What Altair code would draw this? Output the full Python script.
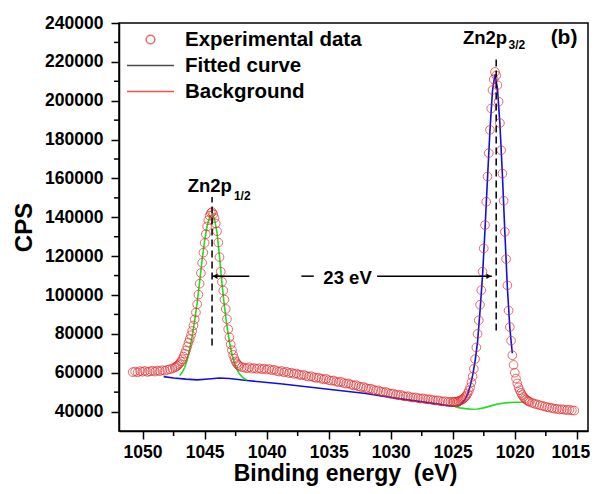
import altair as alt
import pandas as pd

# ---------------- data ----------------
exp_energy = [
    1050.8, 1050.6, 1050.4, 1050.2, 1050.0, 1049.8, 1049.6, 1049.4, 1049.2, 1049.0,
    1048.8, 1048.6, 1048.4, 1048.2, 1048.0, 1047.8, 1047.6, 1047.4,
    1047.3, 1047.2, 1047.1, 1047.0, 1046.9, 1046.8, 1046.7, 1046.6, 1046.5, 1046.4,
    1046.3, 1046.2, 1046.1, 1046.0, 1045.9, 1045.8, 1045.7, 1045.6, 1045.5, 1045.4,
    1045.3, 1045.2, 1045.1, 1045.0, 1044.9, 1044.8, 1044.7, 1044.6, 1044.5, 1044.4,
    1044.3, 1044.2, 1044.1, 1044.0, 1043.9, 1043.8, 1043.7, 1043.6, 1043.5, 1043.4,
    1043.3, 1043.2, 1043.1, 1043.0, 1042.9, 1042.8, 1042.7, 1042.6, 1042.5, 1042.4,
    1042.3, 1042.2,
    1042.0, 1041.8, 1041.6, 1041.4, 1041.2, 1041.0, 1040.8, 1040.6, 1040.4, 1040.2,
    1040.0, 1039.8, 1039.6, 1039.4, 1039.2, 1039.0, 1038.8, 1038.6, 1038.4, 1038.2,
    1038.0, 1037.8, 1037.6, 1037.4, 1037.2, 1037.0, 1036.8, 1036.6, 1036.4, 1036.2,
    1036.0, 1035.8, 1035.6, 1035.4, 1035.2, 1035.0, 1034.8, 1034.6, 1034.4, 1034.2,
    1034.0, 1033.8, 1033.6, 1033.4, 1033.2, 1033.0, 1032.8, 1032.6, 1032.4, 1032.2,
    1032.0, 1031.8, 1031.6, 1031.4, 1031.2, 1031.0, 1030.8, 1030.6, 1030.4, 1030.2,
    1030.0, 1029.8, 1029.6, 1029.4, 1029.2, 1029.0, 1028.8, 1028.6, 1028.4, 1028.2,
    1028.0, 1027.8, 1027.6, 1027.4, 1027.2, 1027.0, 1026.8, 1026.6, 1026.4, 1026.2,
    1026.0, 1025.8, 1025.6, 1025.4, 1025.2, 1025.0,
    1024.9, 1024.8, 1024.7, 1024.6, 1024.5, 1024.4, 1024.3, 1024.2, 1024.1, 1024.0,
    1023.9, 1023.8, 1023.7, 1023.6, 1023.5, 1023.4, 1023.3, 1023.2, 1023.1, 1023.0,
    1022.9, 1022.8, 1022.7, 1022.6, 1022.5, 1022.4, 1022.3, 1022.2, 1022.1, 1022.0,
    1021.9, 1021.8, 1021.7, 1021.6, 1021.5, 1021.4, 1021.3, 1021.2, 1021.1, 1021.0,
    1020.9, 1020.8, 1020.7, 1020.6, 1020.5, 1020.4, 1020.3, 1020.2, 1020.1, 1020.0,
    1019.9, 1019.8, 1019.7, 1019.6, 1019.5, 1019.4, 1019.3, 1019.2, 1019.1, 1019.0,
    1018.9, 1018.8,
    1018.6, 1018.4, 1018.2, 1018.0, 1017.8, 1017.6, 1017.4, 1017.2, 1017.0, 1016.8,
    1016.6, 1016.4, 1016.2, 1016.0, 1015.8, 1015.6, 1015.4, 1015.2,
]
exp_cps = [
    60300, 60600, 60200, 60800, 60500, 60900, 60400, 60700, 61000, 60600,
    61100, 60800, 61300, 61000, 61500, 61800, 62200, 62700,
    63100, 63600, 64200, 64900, 65800, 66900, 68300, 69800, 71500, 73500,
    75500, 77300, 79300, 81500, 84300, 87500, 91000, 95200, 100200, 105800,
    111300, 116600, 121800, 126800, 131300, 135300, 138500, 140800, 142200, 142700,
    141600, 139600, 136800, 132800, 127000, 119500, 112000, 106800, 102300, 97600,
    92800, 87600, 82400, 78200, 74600, 71600, 69200, 67300, 65800, 64800,
    64000, 63400,
    62900, 62600, 62300, 62800, 62100, 62400, 62000, 62300, 61800, 62100,
    61600, 61900, 61300, 61500, 60900, 60600, 60900, 60200, 60500, 59800,
    60000, 59400, 59600, 59000, 58700, 58900, 58300, 58000, 58200, 57600,
    57300, 57500, 56900, 56600, 56800, 56200, 55900, 56000, 55400, 55100,
    55300, 54700, 54400, 54500, 53900, 53500, 53600, 53000, 52600, 52700,
    52100, 51700, 51800, 51200, 50800, 50900, 50300, 50000, 50100, 49500,
    49200, 49300, 48700, 48500, 48600, 48000, 47800, 47900, 47400, 47200,
    47300, 46900, 46700, 46800, 46400, 46300, 46200, 45900, 45700, 45800,
    45400, 45200, 45300, 44900, 45000, 45100,
    44900, 45100, 45000, 45200, 45400, 45700, 46000, 46400, 46900, 47500,
    48300, 49400, 50800, 52500, 55000, 58000, 62000, 67000, 73000, 80000,
    87000, 95000, 102500, 112000, 124000, 136000, 148000, 161000, 173000, 185000,
    196000, 205500, 211000, 214800, 213000, 208000, 199500, 188500, 174500, 162500,
    148500, 132500, 118500, 105000, 92000, 83500, 76500, 69000, 64000, 60000,
    57000, 54500, 52500, 51000, 49600, 48500, 47500, 46800, 46200, 45700,
    45300, 45000,
    44500, 44000, 43700, 43300, 43000, 42600, 42300, 42000, 41800, 41500,
    41400, 41100, 41200, 40900, 40800, 40900, 40600, 40500,
]

# blue: background under Zn2p1/2 continued by the Zn2p3/2 fit
blue_energy = [1048.3, 1047.5, 1046.5, 1045.6, 1044.7, 1043.8, 1043.0, 1041.6, 1038.9,
               1035.2, 1032.0, 1029.5, 1027.0, 1025.5, 1024.9, 1024.6, 1024.3, 1024.0,
               1023.8, 1023.6, 1023.4, 1023.2, 1023.0, 1022.8, 1022.6, 1022.4, 1022.2,
               1022.0, 1021.8, 1021.6, 1021.4, 1021.2, 1021.0, 1020.8, 1020.6, 1020.4,
               1020.2]
blue_cps = [58000, 57300, 56700, 56300, 56800, 57300, 57000, 56000, 54300,
            51600, 49300, 46800, 44600, 43200, 42700, 42600, 44000, 46500,
            49000, 53000, 58500, 66000, 76000, 92000, 110000, 134000, 160000,
            185000, 205000, 213500, 206500, 188000, 162000, 132000, 104000, 83000,
            70000]

# green: Zn2p1/2 fit and background under Zn2p3/2
green_peak_energy = [1047.0, 1046.8, 1046.6, 1046.4, 1046.2, 1046.0, 1045.8, 1045.6, 1045.4,
                     1045.2, 1045.0, 1044.8, 1044.6, 1044.4, 1044.2, 1044.0, 1043.8, 1043.6,
                     1043.4, 1043.2, 1043.0, 1042.8, 1042.6, 1042.4, 1042.2, 1042.0, 1041.8,
                     1041.6]
green_peak_cps = [58500, 60200, 62800, 66500, 72000, 79000, 87000, 96000, 107000,
                  118000, 128000, 135500, 140000, 141500, 139000, 132000, 120000, 106000,
                  94000, 84000, 76000, 69500, 65000, 61800, 59500, 58000, 57000,
                  56200]
green_bg_energy = [1024.8, 1024.4, 1024.0, 1023.5, 1023.0, 1022.5, 1022.0, 1021.5, 1021.0,
                   1020.5, 1020.0, 1019.6, 1019.3]
green_bg_cps = [42400, 41900, 41500, 41200, 41300, 41900, 42800, 43700, 44300,
                44600, 44800, 44800, 44900]

series_names = ["Experimental data", "Fitted curve", "Background"]
series_colors = ["#dd2a2a", "#000000", "#ff0000"]

x_ticks = [1015, 1020, 1025, 1030, 1035, 1040, 1045, 1050]
x_minor = [1017.5, 1022.5, 1027.5, 1032.5, 1037.5, 1042.5, 1047.5]
y_ticks = list(range(40000, 240001, 20000))
y_minor = list(range(50000, 230001, 20000))

# annotation anchors (data coordinates)
peak_e = [1044.4, 1021.5]
peak_top = [150400, 223300]
peak_bottom = [74000, 81700]
gap_y = 109700
arrow_from = [1044.4, 1037.2, 1031.1]
arrow_to = [1041.4, 1036.2, 1021.85]

# ---------------- chart ----------------
W, H = 469, 408
FONT = "Liberation Sans"
CIRCLE = "M-0.37,0A0.37,0.37 0 1,1 0.37,0A0.37,0.37 0 1,1 -0.37,0Z"
LINE = "M-2,0L2,0"

xs = alt.Scale(domain=[1014.1, 1051.9], reverse=True, nice=False, zero=False)
ys = alt.Scale(domain=[30000, 240000], nice=False, zero=False)
xaxis = alt.Axis(values=x_ticks, format="d", title="Binding energy\u00a0 (eV)",
                 labelPadding=4, labelFlush=13, labelFlushOffset=13,
                 titleX=226, titleY=49.5, titleBaseline="alphabetic", titleFontSize=23)
yaxis = alt.Axis(values=y_ticks, format="d", title="CPS", titlePadding=8, labelPadding=8)


def X(f):
    return alt.X(f, type="quantitative", scale=xs, axis=xaxis)


def Y(f):
    return alt.Y(f, type="quantitative", scale=ys, axis=yaxis)


exp_df = pd.DataFrame({"E": exp_energy, "CPS": exp_cps, "series": series_names[0]})
blue_df = pd.DataFrame({"E": blue_energy, "CPS": blue_cps})
gp_df = pd.DataFrame({"E": green_peak_energy, "CPS": green_peak_cps})
gb_df = pd.DataFrame({"E": green_bg_energy, "CPS": green_bg_cps})

legend = alt.Legend(title=None, orient="top-left", offset=4, padding=0,
                    symbolSize=552, symbolStrokeWidth=1.5, symbolOffset=15,
                    labelOffset=22, rowPadding=3, labelFont=FONT, labelFontSize=20.5,
                    labelFontWeight="bold", labelColor="black", labelLimit=500)

blue = alt.Chart(blue_df).mark_line(color="#1010e0", strokeWidth=1.6).encode(
    x=X("E"), y=Y("CPS"), order="idx:Q").transform_window(idx="row_number()")
green1 = alt.Chart(gp_df).mark_line(color="#22dd22", strokeWidth=1.6).encode(
    x=X("E"), y=Y("CPS"))
green2 = alt.Chart(gb_df).mark_line(color="#22dd22", strokeWidth=1.6).encode(
    x=X("E"), y=Y("CPS"))

points = alt.Chart(exp_df).mark_point(filled=False, size=552, strokeWidth=1).encode(
    x=X("E"), y=Y("CPS"),
    color=alt.Color("series:N", scale=alt.Scale(domain=series_names, range=series_colors),
                    legend=legend),
    shape=alt.Shape("series:N", scale=alt.Scale(domain=series_names,
                                                range=[CIRCLE, LINE, LINE]),
                    legend=legend),
)

dash_df = pd.DataFrame({"E": peak_e, "top": peak_top, "bottom": peak_bottom})
dashes = alt.Chart(dash_df).mark_rule(color="black", strokeWidth=1.5,
                                      strokeDash=[7, 4]).encode(
    x=X("E"), y=Y("bottom"), y2="top")

arr_df = pd.DataFrame({"E": arrow_from, "E2": arrow_to, "CPS": [gap_y] * 3})
arrows = alt.Chart(arr_df).mark_rule(color="black", strokeWidth=1.5).encode(
    x=X("E"), x2="E2", y=Y("CPS"))
head_l = alt.Chart(pd.DataFrame({"E": [1044.15], "CPS": [gap_y]})).mark_point(
    filled=True, color="black", size=30, opacity=1, shape="triangle-left").encode(
    x=X("E"), y=Y("CPS"))
head_r = alt.Chart(pd.DataFrame({"E": [1022.1], "CPS": [gap_y]})).mark_point(
    filled=True, color="black", size=30, opacity=1, shape="triangle-right").encode(
    x=X("E"), y=Y("CPS"))

main_df = pd.DataFrame({"E": [1042.8, 1020.62], "CPS": [153000, 229400],
                        "t": ["Zn2p", "Zn2p"]})
main_txt = alt.Chart(main_df).mark_text(
    font=FONT, fontSize=18.5, fontWeight="bold", color="black", align="right",
    baseline="alphabetic").encode(x=X("E"), y=Y("CPS"), text="t:N")
gap_df = pd.DataFrame({"E": [1033.48], "CPS": [105800], "t": ["23 eV"]})
gap_txt = alt.Chart(gap_df).mark_text(
    font=FONT, fontSize=18.5, fontWeight="bold", color="black", align="center",
    baseline="alphabetic").encode(x=X("E"), y=Y("CPS"), text="t:N")
sub_df = pd.DataFrame({"E": [1042.64, 1020.5], "CPS": [148700, 226400],
                       "t": ["1/2", "3/2"]})
sub_txt = alt.Chart(sub_df).mark_text(
    font=FONT, fontSize=12, fontWeight="bold", color="black", align="left",
    baseline="alphabetic").encode(x=X("E"), y=Y("CPS"), text="t:N")
b_df = pd.DataFrame({"E": [1014.95], "CPS": [229000], "t": ["(b)"]})
b_txt = alt.Chart(b_df).mark_text(
    font=FONT, fontSize=21, fontWeight="bold", color="black", align="right",
    baseline="alphabetic").encode(x=X("E"), y=Y("CPS"), text="t:N")

xm = alt.Chart(pd.DataFrame({"E": x_minor})).mark_rule(color="black", strokeWidth=1.5).encode(
    x=X("E"), y=alt.value(H), y2=alt.value(H + 5))
ym = alt.Chart(pd.DataFrame({"CPS": y_minor})).mark_rule(color="black", strokeWidth=1.5).encode(
    y=Y("CPS"), x=alt.value(0), x2=alt.value(-5))

chart = alt.layer(
    blue, green1, green2, points, dashes, arrows, head_l, head_r,
    main_txt, gap_txt, sub_txt, b_txt, xm, ym
).properties(
    width=W, height=H,
    padding={"left": 111, "top": 15, "right": 2, "bottom": 55},
    autosize=alt.AutoSizeParams(type="none"),
).configure_view(stroke="black", strokeWidth=1.5).configure_axis(
    grid=False, domainColor="black", domainWidth=1.5, tickColor="black", tickWidth=1.5,
    tickSize=8, labelFont=FONT, labelFontSize=17.5, labelFontWeight="bold",
    labelColor="black", titleFont=FONT, titleFontSize=24, titleFontWeight="bold",
    titleColor="black",
)

chart.save("out.html", embed_options={"renderer": "svg", "actions": False})
